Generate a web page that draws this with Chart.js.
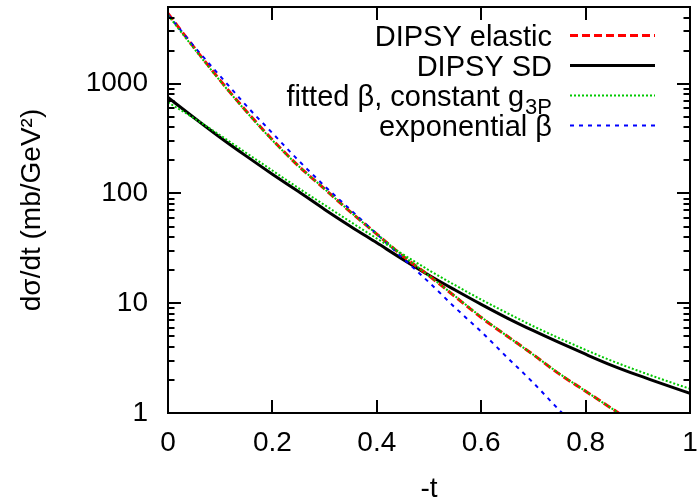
<!DOCTYPE html>
<html>
<head>
<meta charset="utf-8">
<title>dsigma/dt</title>
<script src="https://cdn.jsdelivr.net/npm/chart.js@4.4.1/dist/chart.umd.min.js"></script>
<style>
  html, body { margin: 0; padding: 0; background: #fff; }
  #wrap { width: 697px; height: 499px; }
</style>
</head>
<body>
<div id="wrap"><canvas id="xs-chart" width="697" height="499"></canvas></div>
<script>
const FONT = "'Liberation Sans', Arial, Helvetica, sans-serif";

// -t grid (GeV^2)
const tValues = [0, 0.05, 0.1, 0.15, 0.2, 0.25, 0.3, 0.35, 0.4, 0.45, 0.5,
                 0.55, 0.6, 0.65, 0.7, 0.75, 0.8, 0.85, 0.9, 0.95, 1];

// dσ/dt in mb/GeV^2
const elastic    = [4365, 2138, 1072, 562, 309, 178, 110, 67.6, 42.7, 26.9, 17.8,
                    11.5, 7.41, 5.01, 3.39, 2.26, 1.58, 1.10, 0.76, 0.52, 0.36];
const singleDiff = [750, 490, 324, 219, 150, 104, 71.6, 50.1, 35.5, 25.1, 18.0,
                    13.2, 9.77, 7.33, 5.62, 4.37, 3.43, 2.72, 2.21, 1.82, 1.51];
const fitElastic = [4217, 2089, 1059, 556, 305, 178, 110, 67.6, 42.7, 27.2, 17.8,
                    11.6, 7.50, 5.01, 3.39, 2.28, 1.58, 1.10, 0.76, 0.52, 0.36];
const fitSD      = [676, 484, 339, 234, 162, 112, 78.5, 55.0, 38.9, 27.9, 20.0,
                    14.6, 10.8, 8.13, 6.17, 4.79, 3.76, 2.99, 2.43, 2.00, 1.66];
const expBeta    = [4266, 2188, 1175, 631, 355, 200, 117, 70.8, 42.7, 25.7, 15.5,
                    9.12, 5.50, 3.20, 1.88, 1.06, 0.63, 0.37, 0.22, 0.13, 0.08];

const seriesLabels = ['DIPSY elastic', 'DIPSY SD', 'fitted β, constant g_3P', 'exponential β'];

const xTicks = [0, 0.2, 0.4, 0.6, 0.8, 1];
const xTickLabels = ['0', '0.2', '0.4', '0.6', '0.8', '1'];
const yTicks = [1, 10, 100, 1000];
const yTickLabels = ['1', '10', '100', '1000'];

const points = ys => tValues.map((t, i) => ({ x: t, y: ys[i] }));

function curve(label, ys, color, width, dash, order) {
  return {
    label: label,
    data: points(ys),
    borderColor: color,
    backgroundColor: color,
    borderWidth: width,
    borderDash: dash,
    borderCapStyle: 'butt',
    pointRadius: 0,
    pointHoverRadius: 0,
    fill: false,
    cubicInterpolationMode: 'monotone',
    clip: 0,
    order: order
  };
}

// frame with inward tick marks on all four sides
const framePlugin = {
  id: 'frame',
  afterDatasetsDraw(chart) {
    const ctx = chart.ctx;
    const { left, right, top, bottom } = chart.chartArea;
    const xs = chart.scales.x, ys = chart.scales.y;
    ctx.save();
    ctx.strokeStyle = '#000';
    ctx.lineWidth = 2;
    ctx.setLineDash([]);
    ctx.strokeRect(left, top, right - left, bottom - top);
    ctx.beginPath();
    for (let d = 1; d < ys.max; d *= 10) {
      for (let m = 1; m <= 9; m++) {
        const v = d * m;
        if (v >= ys.max) break;
        const py = Math.round(ys.getPixelForValue(v));
        const len = m === 1 ? 13 : 6.5;
        ctx.moveTo(left, py); ctx.lineTo(left + len, py);
        ctx.moveTo(right, py); ctx.lineTo(right - len, py);
      }
    }
    xTicks.forEach(v => {
      const px = Math.round(xs.getPixelForValue(v));
      ctx.moveTo(px, bottom); ctx.lineTo(px, bottom - 13);
      ctx.moveTo(px, top); ctx.lineTo(px, top + 13);
    });
    ctx.stroke();
    ctx.restore();
  }
};

// key in the upper right: right-aligned text, line sample after it
const keyPlugin = {
  id: 'key',
  afterDraw(chart) {
    const ctx = chart.ctx;
    let row = 0;
    ctx.save();
    chart.data.datasets.forEach(ds => {
      if (!ds.label) return;
      const base = 45.5 + row * 30;
      const ly = base - 10;
      const parts = ds.label.split('_');
      let textRight = 552;
      ctx.fillStyle = '#000';
      ctx.textAlign = 'right';
      ctx.textBaseline = 'alphabetic';
      if (parts[1]) {
        ctx.font = '22px ' + FONT;
        ctx.fillText(parts[1], textRight, base + 8);
        textRight -= ctx.measureText(parts[1]).width + 1;
      }
      ctx.font = '29px ' + FONT;
      ctx.fillText(parts[0], textRight, base);

      ctx.strokeStyle = ds.borderColor;
      ctx.lineWidth = ds.borderWidth;
      ctx.lineCap = 'butt';
      ctx.setLineDash(ds.borderDash);
      ctx.beginPath();
      ctx.moveTo(570, ly);
      ctx.lineTo(655, ly);
      ctx.stroke();
      row++;
    });
    ctx.restore();
  }
};

new Chart(document.getElementById('xs-chart'), {
  type: 'line',
  data: {
    datasets: [
      curve(seriesLabels[0], elastic, '#ff0000', 3, [8, 4], 2),
      curve(seriesLabels[1], singleDiff, '#000000', 3, [], 3),
      curve(seriesLabels[2], fitElastic, '#00c800', 2, [2, 2], 0),
      curve('', fitSD, '#00c800', 2, [2, 2], 0),
      curve(seriesLabels[3], expBeta, '#0000ff', 2, [4, 5], 1)
    ]
  },
  options: {
    responsive: false,
    devicePixelRatio: 1,
    animation: false,
    events: [],
    layout: { padding: { top: 7, right: 7, left: 0, bottom: 0 } },
    plugins: {
      legend: { display: false },
      tooltip: { enabled: false },
      title: { display: false }
    },
    scales: {
      x: {
        type: 'linear',
        min: 0,
        max: 1,
        grid: { display: false, drawTicks: false },
        border: { display: false },
        afterBuildTicks: s => { s.ticks = xTicks.map(v => ({ value: v })); },
        afterFit: s => { s.height = 86; s.paddingLeft = 0; s.paddingRight = 0; },
        ticks: {
          padding: 13,
          color: '#000',
          autoSkip: false,
          maxRotation: 0,
          font: { family: FONT, size: 28 },
          callback: (v, i) => xTickLabels[i]
        },
        title: {
          display: true,
          text: '-t',
          color: '#000',
          padding: 0,
          font: { family: FONT, size: 28, lineHeight: 0.7 }
        }
      },
      y: {
        type: 'logarithmic',
        min: 1,
        max: 5000,
        grid: { display: false, drawTicks: false },
        border: { display: false },
        afterBuildTicks: s => { s.ticks = yTicks.map(v => ({ value: v })); },
        afterFit: s => { s.width = 168; s.paddingTop = 0; s.paddingBottom = 0; },
        ticks: {
          padding: 20,
          color: '#000',
          autoSkip: false,
          font: { family: FONT, size: 28 },
          callback: (v, i) => yTickLabels[i]
        },
        title: {
          display: true,
          text: 'dσ/dt (mb/GeV²)',
          color: '#000',
          padding: { top: 15, bottom: 0 },
          font: { family: FONT, size: 28 }
        }
      }
    }
  },
  plugins: [framePlugin, keyPlugin]
});
</script>
</body>
</html>
